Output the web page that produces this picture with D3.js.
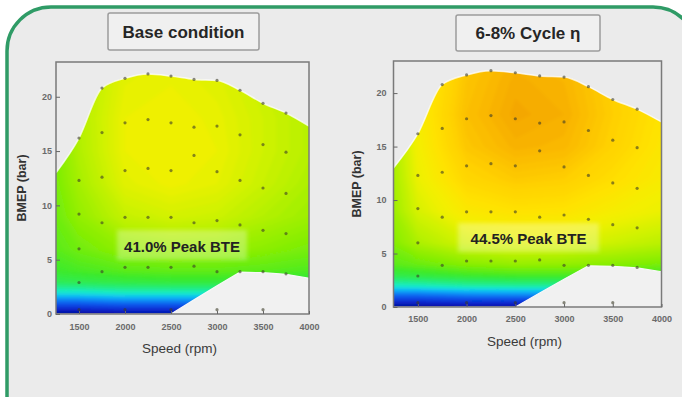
<!DOCTYPE html>
<html>
<head>
<meta charset="utf-8">
<script src="https://cdn.jsdelivr.net/npm/d3@7"></script>
<style>
  body { margin: 0; background: #fff; }
  svg { display: block; font-family: "Liberation Sans", Arial, sans-serif; }
</style>
</head>
<body>
<div id="chart"></div>
<script>
// values
var mapSpeeds = [1250, 1500, 1750, 2000, 2250, 2500, 2750, 3000, 3250, 3500, 3750, 4000];
var fullLoad  = [13.0, 16.2, 20.8, 21.7, 22.1, 21.9, 21.6, 21.5, 20.6, 19.4, 18.5, 17.3];
var minLoad   = [0, 0, 0, 0, 0, 0, 1.3, 2.6, 3.85, 3.8, 3.65, 3.3];

// measured test points (speed columns, loads in each column)
var testSpeeds = [1500, 1750, 2000, 2250, 2500, 2750, 3000, 3250, 3500, 3750];
var testLoads = [
  [16.2, 12.3, 9.2, 6.0, 2.9, 0.4],
  [20.8, 16.7, 12.6, 8.4, 3.9],
  [21.7, 17.6, 13.2, 8.9, 4.3, 0.4],
  [22.1, 17.9, 13.4, 8.9, 4.3],
  [21.9, 17.6, 13.2, 8.9, 4.3, 0.4],
  [21.6, 17.2, 14.6, 8.4, 4.4],
  [21.5, 17.3, 13.1, 8.6, 3.9, 0.4],
  [20.6, 16.5, 12.3, 8.2, 3.9],
  [19.4, 15.6, 11.6, 7.7, 3.9, 0.4],
  [18.5, 14.9, 11.1, 7.4, 3.7]
];

// BTE (%) estimated on a coarse speed x load grid
var gridSpeeds = [1250, 1500, 2000, 2500, 3000, 3500, 4000];
var gridLoads  = [0, 0.5, 1, 1.5, 2, 3, 4, 6, 9, 12, 15, 18, 21, 24];
var baseBte = [
  [22.5, 22.5, 23.0, 23.0, 23.0, 23.0, 23.0],
  [25.0, 25.0, 25.5, 25.5, 25.5, 25.5, 25.5],
  [27.3, 27.3, 27.7, 27.7, 27.7, 27.7, 27.7],
  [29.3, 29.3, 29.8, 29.8, 29.8, 29.8, 29.8],
  [31.8, 31.8, 32.3, 32.3, 32.3, 32.3, 32.3],
  [34.8, 35.0, 35.4, 35.6, 35.6, 35.4, 35.2],
  [36.0, 36.3, 36.8, 37.0, 37.0, 36.8, 36.5],
  [36.8, 37.4, 38.3, 38.6, 38.5, 38.1, 37.6],
  [37.3, 38.3, 39.7, 40.1, 39.9, 39.2, 38.6],
  [37.6, 38.8, 40.5, 40.9, 40.6, 39.8, 39.0],
  [37.8, 39.1, 40.8, 41.0, 40.8, 40.0, 39.3],
  [37.8, 39.2, 40.8, 41.0, 40.7, 40.0, 39.3],
  [37.7, 39.1, 40.6, 40.8, 40.5, 39.8, 39.1],
  [37.5, 38.9, 40.4, 40.6, 40.3, 39.6, 38.9]
];
var cycleBte = [
  [22.5, 22.5, 23.0, 23.0, 23.0, 23.0, 23.0],
  [25.0, 25.0, 25.5, 25.5, 25.5, 25.5, 25.5],
  [27.3, 27.3, 27.8, 28.0, 28.0, 28.0, 27.8],
  [29.4, 29.4, 30.0, 30.2, 30.2, 30.2, 30.0],
  [32.0, 32.2, 32.8, 33.0, 33.0, 32.8, 32.6],
  [35.2, 35.5, 36.1, 36.4, 36.4, 36.2, 35.9],
  [36.8, 37.2, 38.0, 38.4, 38.3, 38.0, 37.6],
  [37.9, 39.0, 40.1, 40.5, 40.4, 39.9, 39.4],
  [38.6, 40.2, 41.6, 42.0, 41.9, 41.3, 40.8],
  [38.8, 40.8, 42.6, 43.2, 43.0, 42.2, 41.4],
  [39.0, 41.1, 43.3, 44.1, 43.9, 42.8, 41.7],
  [39.0, 41.3, 43.6, 44.5, 44.2, 43.0, 41.9],
  [38.8, 41.1, 43.4, 44.3, 44.0, 42.9, 41.8],
  [38.6, 40.9, 43.1, 44.0, 43.7, 42.7, 41.6]
];

var panelTitles = ["Base condition", "6-8% Cycle \u03b7"];
var peakLabels  = ["41.0% Peak BTE", "44.5% Peak BTE"];
var speedTicks  = [1500, 2000, 2500, 3000, 3500, 4000];
var loadTicks   = [0, 5, 10, 15, 20];

// jet-like colour ramp for BTE
var bteStops  = [22, 25, 27.5, 30, 32, 34, 36, 38, 40, 41, 42, 43, 44, 45];
var bteColors = ["#08088c", "#0a28d0", "#0a60f0", "#12b8f8", "#18eccc", "#28ec70", "#3cea2c",
                 "#88ee00", "#d0f200", "#f2f000", "#ffe200", "#ffcf00", "#f9b500", "#f09a00"];
var color = d3.scaleLinear().domain(bteStops).range(bteColors).clamp(true);

var svgWidth = 682, svgHeight = 397;

var svg = d3.select("#chart").append("svg")
    .attr("width", svgWidth)
    .attr("height", svgHeight);

var defs = svg.append("defs");
defs.append("filter").attr("id", "soft")
    .attr("x", "-5%").attr("y", "-5%").attr("width", "110%").attr("height", "110%")
  .append("feGaussianBlur").attr("stdDeviation", 1.4);
defs.append("filter").attr("id", "softer")
  .append("feGaussianBlur").attr("stdDeviation", 2);

// rounded green outline
svg.append("rect")
    .attr("x", 7).attr("y", 7)
    .attr("width", 690).attr("height", 440)
    .attr("rx", 44)
    .attr("fill", "#ebebeb")
    .attr("stroke", "#2f9b66")
    .attr("stroke-width", 3.5);

var panels = [
  { left: 56, right: 309, bottom: 314, top: 62, yMax: 23.2,
    bte: baseBte, titleBox: [108, 13, 151, 37], noteBox: [117, 230, 130, 30], noteY: 252,
    xPad: 10, yPad: 4, yLabelX: 22, yLabelY: 188, xLabelY: 353 },
  { left: 393.5, right: 661.5, bottom: 307, top: 61, yMax: 23.0,
    bte: cycleBte, titleBox: [456, 15, 144, 36], noteBox: [458, 223, 141, 29], noteY: 244,
    xPad: 9, yPad: 7, yLabelX: 357, yLabelY: 184, xLabelY: 346 }
];

panels.forEach(function (p, k) {

  var x = d3.scaleLinear().domain([1250, 4000]).range([p.left, p.right]);
  var y = d3.scaleLinear().domain([0, p.yMax]).range([p.bottom, p.top]);

  var g = svg.append("g");

  // Title box
  var tb = p.titleBox;
  g.append("rect")
      .attr("x", tb[0]).attr("y", tb[1])
      .attr("width", tb[2]).attr("height", tb[3])
      .attr("rx", 2)
      .attr("fill", "#f0f0f0")
      .attr("stroke", "#9c9c9c")
      .attr("stroke-width", 1.5);
  g.append("text")
      .attr("x", tb[0] + tb[2] / 2)
      .attr("y", tb[1] + tb[3] / 2 + 6)
      .attr("text-anchor", "middle")
      .attr("font-size", "17px")
      .attr("font-weight", "bold")
      .attr("fill", "#262626")
      .text(panelTitles[k]);

  // clip to the full load envelope
  var clipId = "env" + k;
  var envArea = d3.area()
      .x(function (d, i) { return x(mapSpeeds[i]); })
      .y0(y(0))
      .y1(function (d) { return y(d); })
      .curve(d3.curveMonotoneX);
  defs.append("clipPath").attr("id", clipId)
    .append("path").attr("d", envArea(fullLoad));

  // BTE field from the grid, as filled contour bands
  var values = [];
  p.bte.forEach(function (row) { row.forEach(function (v) { values.push(v); }); });
  var thresholds = d3.range(20, 45.01, 0.2);
  var bands = d3.contours()
      .size([gridSpeeds.length, gridLoads.length])
      .thresholds(thresholds)(values);

  var colToSpeed = d3.scaleLinear().domain(gridSpeeds.map(function (d, i) { return i + 0.5; })).range(gridSpeeds);
  var rowToLoad = d3.scaleLinear().domain(gridLoads.map(function (d, i) { return i + 0.5; })).range(gridLoads);
  var proj = d3.geoTransform({
    point: function (px, py) { this.stream.point(x(colToSpeed(px)), y(rowToLoad(py))); }
  });
  var path = d3.geoPath(proj);

  g.append("g")
      .attr("clip-path", "url(#" + clipId + ")")
    .append("g")
      .attr("filter", "url(#soft)")
    .selectAll("path")
    .data(bands)
    .enter()
    .append("path")
      .attr("d", path)
      .attr("fill", function (d) { return color(d.value + 0.1); })
      .attr("stroke", function (d) { return color(d.value + 0.1); })
      .attr("stroke-width", 0.5);

  // light halo along the envelope top
  g.append("path")
      .attr("d", d3.line()
          .x(function (d, i) { return x(mapSpeeds[i]); })
          .y(function (d) { return y(d); })
          .curve(d3.curveMonotoneX)(fullLoad))
      .attr("fill", "none")
      .attr("stroke", "#ffffff")
      .attr("stroke-opacity", 0.75)
      .attr("stroke-width", 1.5);

  // no-data region under the minimum load line
  g.append("path")
      .attr("d", d3.area()
          .x(function (d, i) { return x(mapSpeeds[i]); })
          .y0(y(0))
          .y1(function (d) { return y(d); })(minLoad))
      .attr("fill", "#f1f1f1")
      .attr("stroke", "#f8f8f8")
      .attr("stroke-width", 1.2);

  // test points
  var pts = [];
  testSpeeds.forEach(function (s, i) {
    testLoads[i].forEach(function (l) { pts.push({ speed: s, load: l }); });
  });
  g.append("g").selectAll("circle")
      .data(pts)
      .enter()
      .append("circle")
      .attr("cx", function (d) { return x(d.speed); })
      .attr("cy", function (d) { return y(d.load); })
      .attr("r", 1.6)
      .attr("fill", "#3c3c28")
      .attr("opacity", 0.6);

  // Peak label box
  var nb = p.noteBox;
  g.append("rect")
      .attr("x", nb[0]).attr("y", nb[1])
      .attr("width", nb[2]).attr("height", nb[3])
      .attr("fill", "#ffffff")
      .attr("opacity", 0.3)
      .attr("filter", "url(#softer)");
  g.append("text")
      .attr("x", nb[0] + nb[2] / 2)
      .attr("y", p.noteY)
      .attr("text-anchor", "middle")
      .attr("font-size", "15px")
      .attr("font-weight", "bold")
      .attr("fill", "#222")
      .text(peakLabels[k]);

  // frame
  g.append("rect")
      .attr("x", p.left).attr("y", p.top)
      .attr("width", p.right - p.left).attr("height", p.bottom - p.top)
      .attr("fill", "none")
      .attr("stroke", "#7a7a7a")
      .attr("stroke-width", 1.5);

  // axes
  var xAxis = g.append("g")
      .attr("transform", "translate(0," + p.bottom + ")")
      .call(d3.axisBottom(x).tickValues(speedTicks).tickFormat(d3.format("d"))
          .tickSize(-3).tickPadding(p.xPad));
  var yAxis = g.append("g")
      .attr("transform", "translate(" + p.left + ",0)")
      .call(d3.axisLeft(y).tickValues(loadTicks).tickFormat(d3.format("d"))
          .tickSize(-4).tickPadding(p.yPad));
  [xAxis, yAxis].forEach(function (a) {
    a.select(".domain").remove();
    a.selectAll(".tick line").attr("stroke", "#666");
    a.selectAll(".tick text")
        .attr("font-family", "Liberation Sans, Arial, sans-serif")
        .attr("font-size", "9px")
        .attr("font-weight", "bold")
        .attr("fill", "#6a6a6a");
  });

  // axis titles
  g.append("text")
      .attr("transform", "translate(" + p.yLabelX + "," + p.yLabelY + ") rotate(-90)")
      .attr("text-anchor", "middle")
      .attr("dy", "0.35em")
      .attr("font-size", "12.5px")
      .attr("font-weight", "bold")
      .attr("fill", "#333")
      .text("BMEP (bar)");
  g.append("text")
      .attr("x", (p.left + p.right) / 2 - 3)
      .attr("y", p.xLabelY)
      .attr("text-anchor", "middle")
      .attr("font-size", "13.5px")
      .attr("fill", "#3a3a3a")
      .text("Speed (rpm)");
});
</script>
</body>
</html>
